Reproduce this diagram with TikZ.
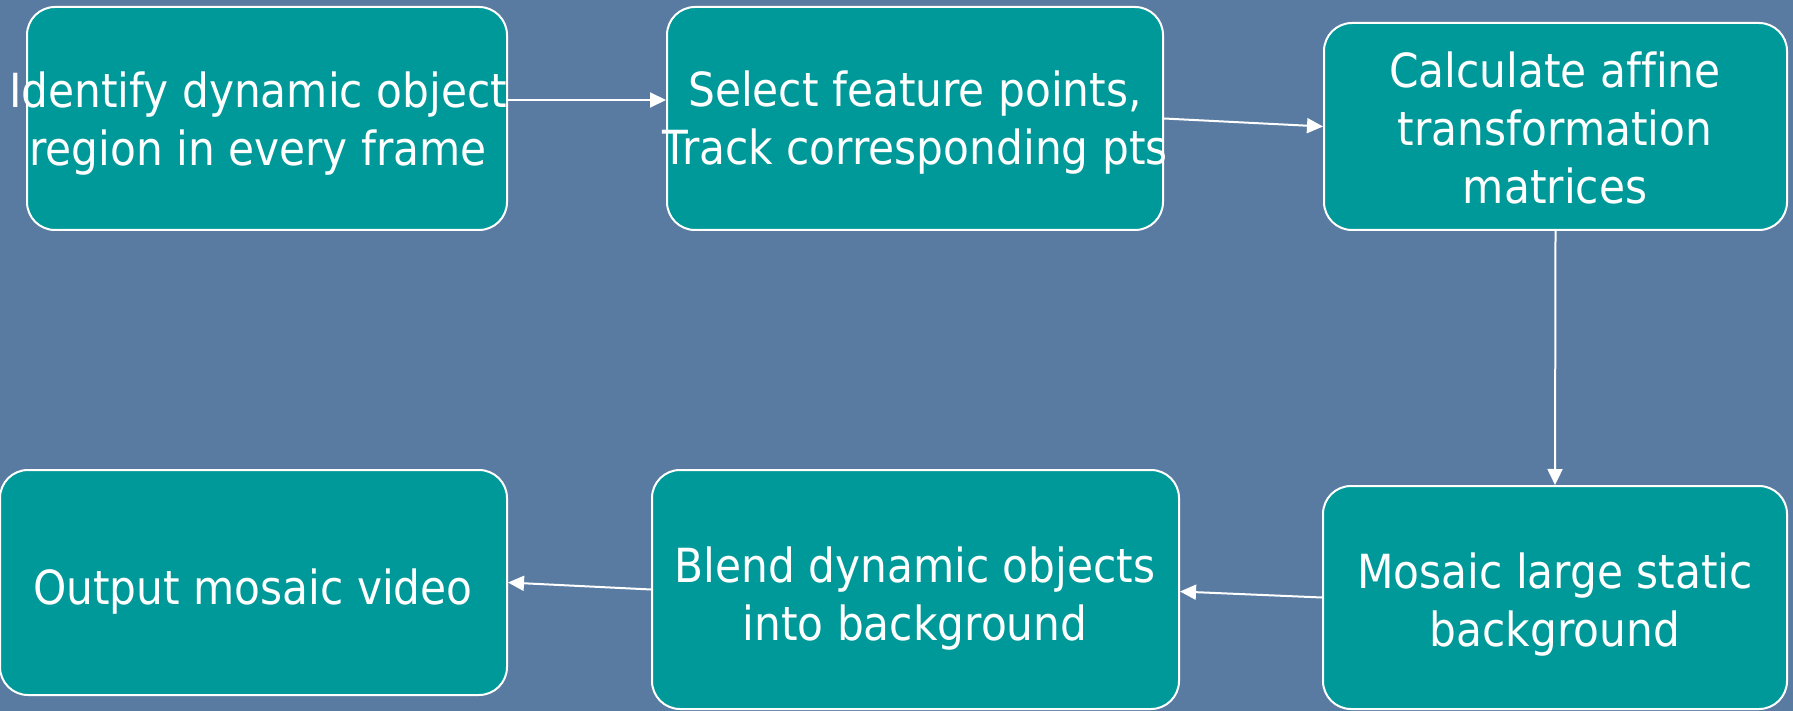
\documentclass[tikz,border=0pt]{standalone}
\usepackage{fontspec}
\setmainfont{DejaVu Sans}[FakeStretch=0.9, Ligatures=NoCommon]
\usetikzlibrary{arrows.meta}
\definecolor{slatebg}{RGB}{90,123,161}
\definecolor{tealbox}{RGB}{0,153,153}
\tikzset{
  stepbox/.style={draw=white, line width=2pt, fill=tealbox, rounded corners=28pt,
    inner sep=0pt, rectangle},
  steptext/.style={text=white, align=center, inner sep=0pt,
    font=\fontsize{47}{58}\selectfont},
  flow/.style={draw=white, line width=2pt,
    -{Triangle[length=16pt,width=15pt]}},
}
\begin{document}
\begin{tikzpicture}[x=1pt,y=-1pt]
  \useasboundingbox (0,0) rectangle (1793,711);
  \fill[slatebg] (0,0) rectangle (1793,711);

  % process boxes
  \node[stepbox, minimum width=480pt, minimum height=223pt] (b1) at (267,118.5) {};
  \node[stepbox, minimum width=496pt, minimum height=223pt] (b2) at (915,118.5) {};
  \node[stepbox, minimum width=463pt, minimum height=207pt] (b3) at (1555.5,126.5) {};
  \node[stepbox, minimum width=464pt, minimum height=223pt] (b4) at (1555,597.5) {};
  \node[stepbox, minimum width=527pt, minimum height=239pt] (b5) at (915.5,589.5) {};
  \node[stepbox, minimum width=507pt, minimum height=225pt] (b6) at (253.5,582.5) {};

  % box captions
  \node[steptext] (t1) at (258,124) {Identify dynamic object\\region in every frame};
  \node[steptext] (t2) at (915,123) {Select feature points,\\Track corresponding pts};
  \node[steptext] (t3) at (1555,128) {Calculate affine\\transformation\\matrices};
  \node[steptext] (t4) at (1555,605) {Mosaic large static\\background};
  \node[steptext] (t5) at (915,599) {Blend dynamic objects\\into background};
  \node[steptext] (t6) at (253,592) {Output mosaic video};

  % flow connectors
  \draw[flow] ([yshift=18.5pt]b1.east) -- ([yshift=18.5pt]b2.west);
  \draw[flow] (b2.east) -- (b3.west);
  \draw[flow] (b3.south) -- (b4.north);
  \draw[flow] (b4.west) -- ([yshift=-2pt]b5.east);
  \draw[flow] (b5.west) -- (b6.east);
\end{tikzpicture}
\end{document}
